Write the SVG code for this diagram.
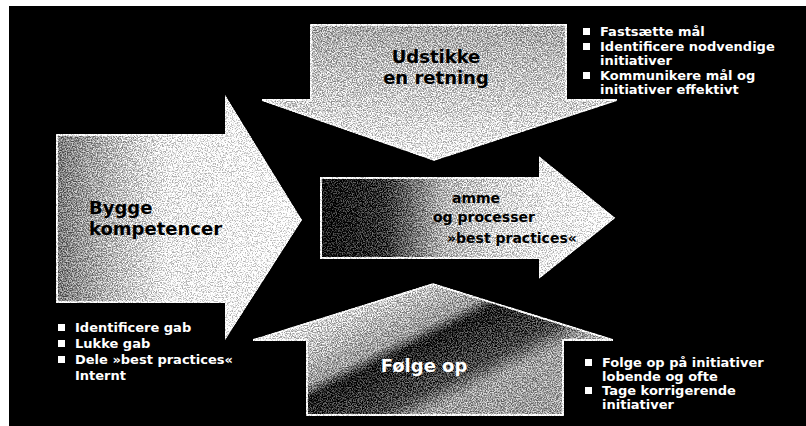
<svg xmlns="http://www.w3.org/2000/svg" width="806" height="426" viewBox="0 0 806 426">
<style>
.arrow{stroke:#ffffff;stroke-width:2;filter:url(#grain)}
.lbl{font-family:"DejaVu Sans","Liberation Sans",sans-serif;font-weight:bold;font-size:18px}
.dark{fill:#000000}
.light{fill:#ffffff}
.ctr{font-family:"DejaVu Sans","Liberation Sans",sans-serif;font-weight:bold;font-size:14px;fill:#000000}
.li{font-family:"DejaVu Sans","Liberation Sans",sans-serif;font-weight:bold;font-size:13px;fill:#ffffff}
.bul{fill:#ffffff}
</style>
<defs>
<filter id="grain" x="-2%" y="-2%" width="104%" height="104%" color-interpolation-filters="sRGB">
<feTurbulence type="fractalNoise" baseFrequency="0.8" numOctaves="2" seed="7" result="noise"/>
<feColorMatrix in="noise" type="matrix" values="1 0 0 0 0  1 0 0 0 0  1 0 0 0 0  0 0 0 0 1" result="grey"/>
<feComponentTransfer in="grey" result="hard">
<feFuncR type="linear" slope="3" intercept="-1"/>
<feFuncG type="linear" slope="3" intercept="-1"/>
<feFuncB type="linear" slope="3" intercept="-1"/>
</feComponentTransfer>
<feComposite in="SourceGraphic" in2="hard" operator="arithmetic" k1="0" k2="1" k3="0.5" k4="-0.25" result="mix"/>
<feComposite in="mix" in2="SourceGraphic" operator="in"/>
</filter>
<linearGradient id="gLeft" x1="0" y1="0" x2="1" y2="0">
<stop offset="0" stop-color="#7a7a7a"/>
<stop offset="0.15" stop-color="#a4a4a4"/>
<stop offset="0.45" stop-color="#eeeeee"/>
<stop offset="1" stop-color="#ffffff"/>
</linearGradient>
<linearGradient id="gTop" x1="0" y1="0" x2="0" y2="1">
<stop offset="0" stop-color="#a8a8a8"/>
<stop offset="0.55" stop-color="#cdcdcd"/>
<stop offset="1" stop-color="#f2f2f2"/>
</linearGradient>
<linearGradient id="gCenter" x1="0" y1="0" x2="1" y2="0">
<stop offset="0" stop-color="#0d0d0d"/>
<stop offset="0.22" stop-color="#333333"/>
<stop offset="0.42" stop-color="#b4b4b4"/>
<stop offset="0.7" stop-color="#e6e6e6"/>
<stop offset="1" stop-color="#ffffff"/>
</linearGradient>
<linearGradient id="gBottom" x1="0.25" y1="0.15" x2="0.8" y2="0.55">
<stop offset="0" stop-color="#dcdcdc"/>
<stop offset="0.42" stop-color="#9a9a9a"/>
<stop offset="0.52" stop-color="#1c1c1c"/>
<stop offset="0.85" stop-color="#4a4a4a"/>
<stop offset="1" stop-color="#a0a0a0"/>
</linearGradient>
</defs>
<rect x="0" y="0" width="806" height="426" fill="#ffffff"/>
<rect x="9" y="6" width="797" height="420" fill="#000000"/>
<g id="connectors"/>
<g id="node-bygge">
<polygon class="arrow" fill="url(#gLeft)" points="57,135 226,135 226,98 301,220 226,337 226,302 57,302"/>
<text class="lbl dark" x="89" y="214">Bygge</text>
<text class="lbl dark" x="89" y="235">kompetencer</text>
</g>
<g id="node-udstikke">
<polygon class="arrow" fill="url(#gTop)" points="311,25 566,25 566,100 617,100 434,160 262,100 311,100"/>
<text class="lbl dark" x="436" y="63" text-anchor="middle">Udstikke</text>
<text class="lbl dark" x="436" y="84" text-anchor="middle">en retning</text>
</g>
<g id="node-folge">
<polygon class="arrow" fill="url(#gBottom)" points="307,415 563,415 563,340 613,340 433,284 253,340 307,340"/>
<text class="lbl light" x="424" y="372" text-anchor="middle">Følge op</text>
</g>
<g id="node-center">
<polygon class="arrow" fill="url(#gCenter)" points="321,178 540,178 540,158 614,218 540,277 540,258 321,258"/>
<text class="ctr" x="452" y="203">amme</text>
<text class="ctr" x="433" y="222">og processer</text>
<text class="ctr" x="447" y="243">»best practices«</text>
</g>
<g id="list-udstikke">
<rect class="bul" x="583" y="28" width="7" height="7"/>
<text class="li" x="600" y="36">Fastsætte mål</text>
<rect class="bul" x="583" y="43" width="7" height="7"/>
<text class="li" x="600" y="51">Identificere nodvendige</text>
<text class="li" x="600" y="65">initiativer</text>
<rect class="bul" x="583" y="72" width="7" height="7"/>
<text class="li" x="600" y="80">Kommunikere mål og</text>
<text class="li" x="600" y="94">initiativer effektivt</text>
</g>
<g id="list-bygge">
<rect class="bul" x="58" y="324" width="7" height="7"/>
<text class="li" x="75" y="332">Identificere gab</text>
<rect class="bul" x="58" y="340" width="7" height="7"/>
<text class="li" x="75" y="348">Lukke gab</text>
<rect class="bul" x="58" y="356" width="7" height="7"/>
<text class="li" x="75" y="364">Dele »best practices«</text>
<text class="li" x="75" y="380">Internt</text>
</g>
<g id="list-folge">
<rect class="bul" x="585" y="359" width="7" height="7"/>
<text class="li" x="602" y="367">Folge op på initiativer</text>
<text class="li" x="602" y="381">lobende og ofte</text>
<rect class="bul" x="585" y="387" width="7" height="7"/>
<text class="li" x="602" y="395">Tage korrigerende</text>
<text class="li" x="602" y="409">initiativer</text>
</g>
</svg>
